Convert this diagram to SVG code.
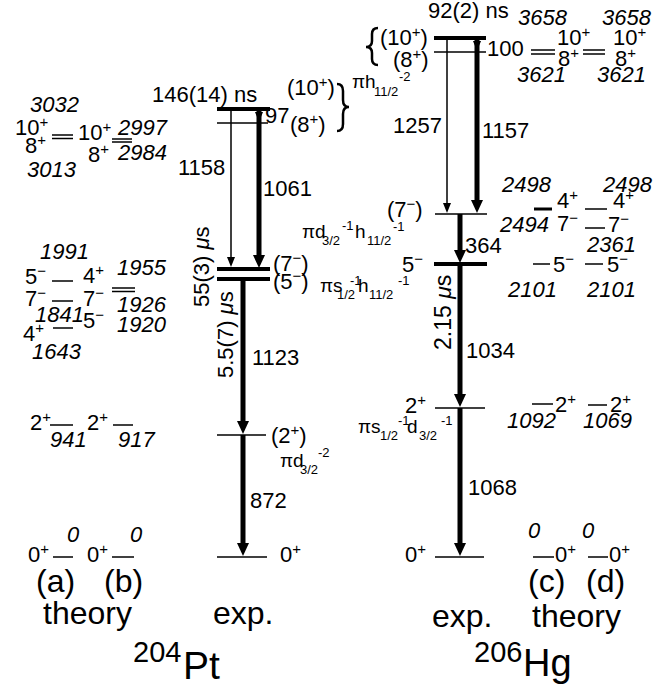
<svg xmlns="http://www.w3.org/2000/svg" width="670" height="685" viewBox="0 0 670 685">
<style>
text{font-family:"Liberation Sans",Arial,Helvetica,sans-serif;font-size:22px;fill:#000}
.i{font-style:italic}
.s{font-size:15px}
.c{font-size:19px}
.sb{font-size:13px}
.b{font-size:32px}
.lv{stroke:#000;stroke-width:1.5;fill:none}
.lk{stroke:#000;stroke-width:4;fill:none}
.ar{stroke:#000;stroke-width:1.5;fill:none}
.ak{stroke:#000;stroke-width:5;fill:none}
.br{stroke:#000;stroke-width:2.5;fill:none}
</style>
<defs>
<marker id="ah" markerUnits="userSpaceOnUse" markerWidth="11" markerHeight="9" viewBox="0 -4.5 11 9" refX="0" refY="0" orient="auto"><path d="M0,-4L10,0L0,4Z" fill="#000"/></marker>
<marker id="ahk" markerUnits="userSpaceOnUse" markerWidth="14" markerHeight="14" viewBox="0 -7 14 14" refX="0" refY="0" orient="auto"><path d="M0,-6L13,0L0,6Z" fill="#000"/></marker>
</defs>

<!-- 204Pt theory (a) -->
<g id="pt-a-10-8">
<line class="lv" x1="52" y1="135" x2="73" y2="135"/><line class="lv" x1="52" y1="138.5" x2="73" y2="138.5"/>
<text class="i" x="30" y="112">3032</text>
<text x="15" y="135">10<tspan class="s" dy="-8">+</tspan></text>
<text x="25" y="153">8<tspan class="s" dy="-8">+</tspan></text>
<text class="i" x="27" y="177">3013</text>
</g>
<g id="pt-a-5">
<line class="lv" x1="52" y1="281" x2="73" y2="281"/>
<text class="i" x="40" y="259">1991</text>
<text x="25" y="284">5<tspan class="s" dy="-8">−</tspan></text>
</g>
<g id="pt-a-7">
<line class="lv" x1="52" y1="301" x2="73" y2="301"/>
<text x="25" y="306">7<tspan class="s" dy="-8">−</tspan></text>
<text class="i" x="35" y="322">1841</text>
</g>
<g id="pt-a-4">
<line class="lv" x1="53" y1="328" x2="73" y2="328"/>
<text x="23" y="341">4<tspan class="s" dy="-8">+</tspan></text>
<text class="i" x="32" y="359">1643</text>
</g>
<g id="pt-a-2">
<line class="lv" x1="50" y1="425" x2="73" y2="425"/>
<text x="30" y="430">2<tspan class="s" dy="-8">+</tspan></text>
<text class="i" x="50" y="447">941</text>
</g>
<g id="pt-a-0">
<line class="lv" x1="53" y1="557" x2="73" y2="557"/>
<text x="28" y="562">0<tspan class="s" dy="-8">+</tspan></text>
<text class="i" x="67" y="542">0</text>
</g>

<!-- 204Pt theory (b) -->
<g id="pt-b-10-8">
<line class="lv" x1="112" y1="139" x2="132" y2="139"/><line class="lv" x1="112" y1="142" x2="132" y2="142"/>
<text x="78" y="140">10<tspan class="s" dy="-8">+</tspan></text>
<text class="i" x="118" y="135">2997</text>
<text x="88" y="162">8<tspan class="s" dy="-8">+</tspan></text>
<text class="i" x="118" y="160">2984</text>
</g>
<g id="pt-b-4-7-5">
<line class="lv" x1="112" y1="288" x2="135" y2="288"/><line class="lv" x1="112" y1="291.5" x2="135" y2="291.5"/>
<text x="83" y="283">4<tspan class="s" dy="-8">+</tspan></text>
<text class="i" x="117" y="275">1955</text>
<text x="83" y="306">7<tspan class="s" dy="-8">−</tspan></text>
<text class="i" x="117" y="312">1926</text>
<text x="83" y="328">5<tspan class="s" dy="-8">−</tspan></text>
<text class="i" x="117" y="332">1920</text>
</g>
<g id="pt-b-2">
<line class="lv" x1="113" y1="425" x2="133" y2="425"/>
<text x="87" y="430">2<tspan class="s" dy="-8">+</tspan></text>
<text class="i" x="118" y="447">917</text>
</g>
<g id="pt-b-0">
<line class="lv" x1="112" y1="557" x2="134" y2="557"/>
<text x="87" y="562">0<tspan class="s" dy="-8">+</tspan></text>
<text class="i" x="130" y="542">0</text>
</g>

<!-- 204Pt experiment -->
<g id="pt-exp-10">
<line class="lk" x1="217" y1="109" x2="270" y2="109"/>
<text x="152" y="102">146(14) ns</text>
<text x="287" y="95">(10<tspan class="s" dy="-8">+</tspan><tspan dy="8">)</tspan></text>
<path class="br" d="M337,84 Q343,84 343,91 L343,100 Q343,107 349,107 Q343,107 343,114 L343,124 Q343,131 337,131"/>
<text class="c" x="352" y="88">πh</text><text class="sb" x="374" y="96">11/2</text><text class="sb" x="399" y="81">-2</text>
</g>
<g id="pt-exp-8">
<line class="lv" x1="217" y1="123" x2="268" y2="123"/>
<text x="290" y="132">(8<tspan class="s" dy="-8">+</tspan><tspan dy="8">)</tspan></text>
</g>
<g id="pt-exp-7">
<line class="lk" x1="217" y1="269" x2="270" y2="269"/>
<text x="273" y="271">(7<tspan class="s" dy="-8">−</tspan><tspan dy="8">)</tspan></text>
<text class="c" x="302" y="238">πd</text><text class="sb" x="322" y="245">3/2</text><text class="sb" x="342" y="230">-1</text>
<text class="c" x="355" y="238">h</text><text class="sb" x="367" y="245">11/2</text><text class="sb" x="393" y="231">-1</text>
</g>
<g id="pt-exp-5">
<line class="lk" x1="217" y1="279" x2="270" y2="279"/>
<text x="273" y="289">(5<tspan class="s" dy="-8">−</tspan><tspan dy="8">)</tspan></text>
<text class="c" x="320" y="292">πs</text><text class="sb" x="337" y="299">1/2</text><text class="sb" x="350" y="285">-1</text>
<text class="c" x="358" y="292">h</text><text class="sb" x="369" y="299">11/2</text><text class="sb" x="398" y="285">-1</text>
</g>
<g id="pt-exp-2">
<line class="lv" x1="217" y1="435" x2="266" y2="435"/>
<text x="271" y="443">(2<tspan class="s" dy="-8">+</tspan><tspan dy="8">)</tspan></text>
<text class="c" x="280" y="467">πd</text><text class="sb" x="300" y="474">3/2</text><text class="sb" x="318" y="457">-2</text>
</g>
<g id="pt-exp-0">
<line class="lv" x1="217" y1="557" x2="267" y2="557"/>
<text x="280" y="562">0<tspan class="s" dy="-8">+</tspan></text>
</g>

<!-- 206Hg experiment -->
<g id="hg-exp-10">
<line class="lk" x1="434" y1="38" x2="486" y2="38"/>
<text x="428" y="18">92(2) ns</text>
<path class="br" d="M378,28 Q372,28 372,34 L372,41 Q372,47 366,47 Q372,47 372,53 L372,59 Q372,65 378,65"/>
<text x="380" y="45">(10<tspan class="s" dy="-8">+</tspan><tspan dy="8">)</tspan></text>
</g>
<g id="hg-exp-8">
<line class="lv" x1="434" y1="52" x2="486" y2="52"/>
<text x="393" y="67">(8<tspan class="s" dy="-8">+</tspan><tspan dy="8">)</tspan></text>
</g>
<g id="hg-exp-7">
<line class="lv" x1="435" y1="214" x2="487" y2="214"/>
<text x="387" y="217">(7<tspan class="s" dy="-8">−</tspan><tspan dy="8">)</tspan></text>
</g>
<g id="hg-exp-5">
<line class="lk" x1="434" y1="264" x2="487" y2="264"/>
<text x="402" y="272">5<tspan class="s" dy="-8">−</tspan></text>
</g>
<g id="hg-exp-2">
<line class="lv" x1="435" y1="408" x2="485" y2="408"/>
<text x="405" y="413">2<tspan class="s" dy="-8">+</tspan></text>
<text class="c" x="358" y="433">πs</text><text class="sb" x="380" y="440">1/2</text><text class="sb" x="398" y="425">-1</text>
<text class="c" x="407" y="433">d</text><text class="sb" x="419" y="440">3/2</text><text class="sb" x="441" y="425">-1</text>
</g>
<g id="hg-exp-0">
<line class="lv" x1="435" y1="557" x2="484" y2="557"/>
<text x="405" y="562">0<tspan class="s" dy="-8">+</tspan></text>
</g>

<!-- 206Hg theory (c) -->
<g id="hg-c-10-8">
<line class="lv" x1="531" y1="50" x2="555" y2="50"/><line class="lv" x1="531" y1="54" x2="555" y2="54"/>
<text class="i" x="518" y="25">3658</text>
<text x="557" y="45">10<tspan class="s" dy="-8">+</tspan></text>
<text x="558" y="66">8<tspan class="s" dy="-8">+</tspan></text>
<text class="i" x="517" y="82">3621</text>
</g>
<g id="hg-c-4-7">
<line class="lv" style="stroke-width:3" x1="534" y1="209" x2="552" y2="209"/>
<text class="i" x="502" y="192">2498</text>
<text x="557" y="208">4<tspan class="s" dy="-8">+</tspan></text>
<text class="i" x="500" y="232">2494</text>
<text x="557" y="231">7<tspan class="s" dy="-8">−</tspan></text>
</g>
<g id="hg-c-5">
<line class="lv" x1="533" y1="264" x2="550" y2="264"/>
<text x="553" y="272">5<tspan class="s" dy="-8">−</tspan></text>
<text class="i" x="508" y="297">2101</text>
</g>
<g id="hg-c-2">
<line class="lv" x1="532" y1="404" x2="553" y2="404"/>
<text x="555" y="412">2<tspan class="s" dy="-8">+</tspan></text>
<text class="i" x="507" y="428">1092</text>
</g>
<g id="hg-c-0">
<line class="lv" x1="533" y1="557" x2="554" y2="557"/>
<text class="i" x="528" y="538">0</text>
<text x="555" y="562">0<tspan class="s" dy="-8">+</tspan></text>
</g>

<!-- 206Hg theory (d) -->
<g id="hg-d-10-8">
<line class="lv" x1="583" y1="50" x2="605" y2="50"/><line class="lv" x1="583" y1="54" x2="605" y2="54"/>
<text class="i" x="602" y="25">3658</text>
<text x="613" y="45">10<tspan class="s" dy="-8">+</tspan></text>
<text x="615" y="66">8<tspan class="s" dy="-8">+</tspan></text>
<text class="i" x="597" y="82">3621</text>
</g>
<g id="hg-d-4">
<line class="lv" x1="585" y1="209" x2="607" y2="209"/>
<text class="i" x="603" y="192">2498</text>
<text x="613" y="208">4<tspan class="s" dy="-8">+</tspan></text>
</g>
<g id="hg-d-7">
<line class="lv" x1="585" y1="228" x2="605" y2="228"/>
<text x="608" y="232">7<tspan class="s" dy="-8">−</tspan></text>
<text class="i" x="587" y="252">2361</text>
</g>
<g id="hg-d-5">
<line class="lv" x1="585" y1="264" x2="603" y2="264"/>
<text x="607" y="272">5<tspan class="s" dy="-8">−</tspan></text>
<text class="i" x="587" y="297">2101</text>
</g>
<g id="hg-d-2">
<line class="lv" x1="588" y1="405" x2="607" y2="405"/>
<text x="610" y="412">2<tspan class="s" dy="-8">+</tspan></text>
<text class="i" x="583" y="428">1069</text>
</g>
<g id="hg-d-0">
<line class="lv" x1="588" y1="557" x2="608" y2="557"/>
<text class="i" x="582" y="538">0</text>
<text x="609" y="562">0<tspan class="s" dy="-8">+</tspan></text>
</g>

<!-- connectors (transitions) -->
<g id="connectors">
<line class="ar" x1="231" y1="109" x2="231" y2="257" marker-end="url(#ah)"/>
<line class="ak" x1="259" y1="109" x2="259" y2="255" marker-end="url(#ahk)"/>
<line class="ar" x1="259" y1="109" x2="259" y2="112" marker-end="url(#ah)"/>
<line class="ak" x1="243" y1="279" x2="243" y2="421" marker-end="url(#ahk)"/>
<line class="ak" x1="243" y1="435" x2="243" y2="543" marker-end="url(#ahk)"/>
<line class="ar" x1="447" y1="38" x2="447" y2="203" marker-end="url(#ah)"/>
<line class="ak" x1="477" y1="38" x2="477" y2="200" marker-end="url(#ahk)"/>
<line class="ar" x1="477" y1="38" x2="477" y2="41" marker-end="url(#ah)"/>
<line class="ak" x1="460" y1="214" x2="460" y2="250" marker-end="url(#ahk)"/>
<line class="ak" x1="460" y1="264" x2="460" y2="394" marker-end="url(#ahk)"/>
<line class="ak" x1="460" y1="408" x2="460" y2="543" marker-end="url(#ahk)"/>
</g>

<!-- transition labels -->
<g id="labels">
<text x="265" y="123">97</text>
<text x="178" y="175">1158</text>
<text x="263" y="196">1061</text>
<text x="252" y="365">1123</text>
<text x="250" y="508">872</text>
<text transform="translate(209,307) rotate(-90)">55(3) <tspan class="i">μ</tspan>s</text>
<text transform="translate(233,378) rotate(-90)">5.5(7) <tspan class="i">μ</tspan>s</text>
<text x="487" y="56">100</text>
<text x="393" y="133">1257</text>
<text x="482" y="138">1157</text>
<text x="465" y="253">364</text>
<text x="466" y="358">1034</text>
<text x="468" y="495">1068</text>
<text style="font-size:23px" transform="translate(451,350) rotate(-90)">2.15 <tspan class="i">μ</tspan>s</text>
</g>

<!-- captions -->
<g id="captions">
<text class="b" x="36" y="592">(a)</text>
<text class="b" x="104" y="592">(b)</text>
<text class="b" x="43" y="624">theory</text>
<text class="b" x="213" y="624">exp.</text>
<text style="font-size:29px" x="133" y="662">204</text><text style="font-size:39px" x="183" y="679">Pt</text>
<text class="b" x="528" y="592">(c)</text>
<text class="b" x="586" y="592">(d)</text>
<text class="b" x="432" y="627">exp.</text>
<text class="b" x="532" y="627">theory</text>
<text style="font-size:29px" x="474" y="662">206</text><text style="font-size:38px" x="523" y="676">Hg</text>
</g>
</svg>
